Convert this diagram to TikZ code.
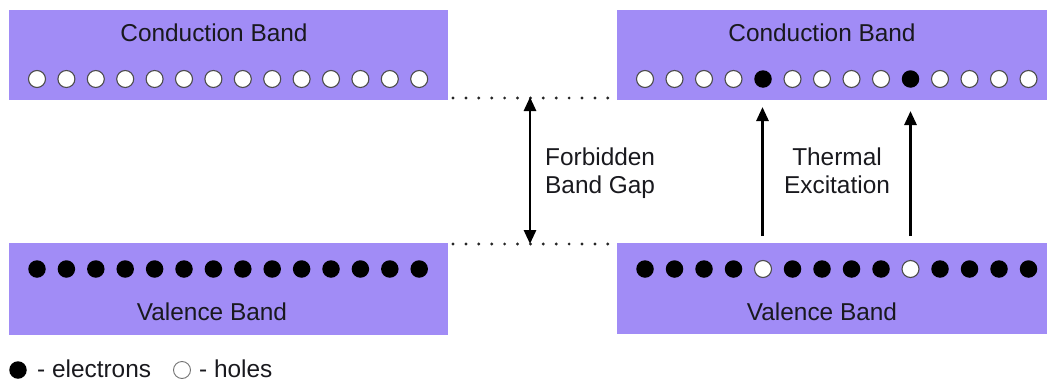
\documentclass[tikz,border=0pt]{standalone}
\usepackage{fontspec}
\setmainfont{Liberation Sans}
\usetikzlibrary{arrows.meta}
\definecolor{band}{RGB}{161,140,246}
\definecolor{txt}{RGB}{25,25,30}
\tikzset{
  bandbox/.style={fill=band, draw=none, inner sep=0pt, anchor=north west},
  lbl/.style={font=\fontsize{24.4}{27.5}\selectfont, text=txt, inner sep=0pt},
  hole/.style={circle, minimum size=17pt, inner sep=0pt, fill=white, draw=black!70, line width=1.1pt},
  elec/.style={circle, minimum size=17.5pt, inner sep=0pt, fill=black, draw=none},
  dotline/.style={line width=3.2pt, dash pattern=on 0pt off 12.9pt, line cap=round, black!85},
  arr/.style={line width=2.8pt, -{Triangle[length=14pt,width=12pt]}},
  darr/.style={line width=2.8pt, {Triangle[length=14pt,width=12pt]}-{Triangle[length=14pt,width=12pt]}}
}
\begin{document}
\begin{tikzpicture}[x=1pt,y=-1pt]
\useasboundingbox (0,0) rectangle (1047,383);
% boxes
\node[bandbox, minimum width=439pt, minimum height=90pt] (cbL) at (9,10) {};
\node[bandbox, minimum width=431pt, minimum height=90pt] (cbR) at (617,10) {};
\node[bandbox, minimum width=439pt, minimum height=92pt] (vbL) at (9,243) {};
\node[bandbox, minimum width=431pt, minimum height=91pt] (vbR) at (617,243) {};
% labels
\node[lbl, anchor=base] (tcL) at (214,41) {Conduction Band};
\node[lbl, anchor=base] (tcR) at (822,41) {Conduction Band};
\node[lbl, anchor=base] (tvL) at (212,320) {Valence Band};
\node[lbl, anchor=base] (tvR) at (822,320) {Valence Band};
% circles
\foreach \i in {0,...,13} {
  \node[hole] (cl\i) at (37+\i*29.4,79) {};
  \node[elec] (vl\i) at (37+\i*29.4,269) {};
}
\foreach \i in {0,...,13} {
  \ifnum\i=4
    \node[elec] (cr\i) at (645+\i*29.5,79) {};
    \node[hole] (vr\i) at (645+\i*29.5,269) {};
  \else\ifnum\i=9
    \node[elec] (cr\i) at (645+\i*29.5,79) {};
    \node[hole] (vr\i) at (645+\i*29.5,269) {};
  \else
    \node[hole] (cr\i) at (645+\i*29.5,79) {};
    \node[elec] (vr\i) at (645+\i*29.5,269) {};
  \fi\fi
}
% dotted lines
\coordinate (dt1) at (453,98);
\coordinate (dt2) at (611,98);
\coordinate (db1) at (453,244);
\coordinate (db2) at (611,244);
\draw[dotline] (dt1) -- (dt2);
\draw[dotline] (db1) -- (db2);
% forbidden gap arrow
\coordinate (gt) at (530,97);
\coordinate (gb) at (530,244);
\draw[darr] (gb) -- (gt);
\node[lbl, align=left, anchor=west] (fbg) at (545,173) {Forbidden\\Band Gap};
% thermal excitation arrows
\coordinate (a1s) at (762.5,236);
\coordinate (a1e) at (762.5,107);
\coordinate (a2s) at (910.5,236);
\coordinate (a2e) at (910.5,111);
\draw[arr] (a1s) -- (a1e);
\draw[arr] (a2s) -- (a2e);
\node[lbl, align=center] (te) at (837,171) {Thermal\\Excitation};
% legend
\node[elec] (lege) at (18,370) {};
\node[lbl, anchor=base west] (legt1) at (37,377) {- electrons};
\node[hole, line width=0.9pt, draw=black!55] (legh) at (182,370) {};
\node[lbl, anchor=base west] (legt2) at (199,377) {- holes};
\end{tikzpicture}
\end{document}
